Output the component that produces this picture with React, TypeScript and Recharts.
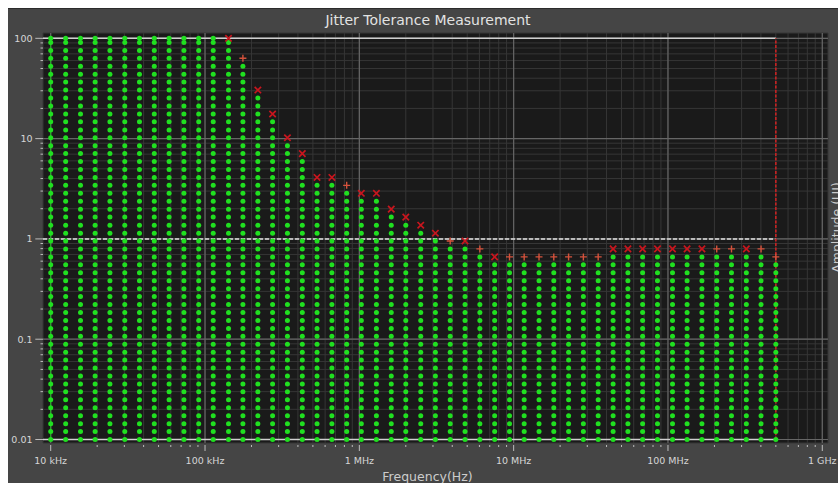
import { CartesianGrid, ReferenceLine, Scatter, ScatterChart, XAxis, YAxis } from "recharts";

// sweep frequencies (Hz), one column of points each
const freqHz = [
  10e3, 12.5e3, 15.6e3, 19.4e3, 24.2e3, 30.2e3, 37.6e3, 46.9e3, 58.5e3, 73.0e3,
  91.0e3, 113e3, 142e3, 176e3, 220e3, 274e3, 342e3, 427e3, 532e3, 664e3,
  828e3, 1.03e6, 1.29e6, 1.61e6, 2.0e6, 2.5e6, 3.11e6, 3.88e6, 4.84e6, 6.04e6,
  7.53e6, 9.4e6, 11.7e6, 14.6e6, 18.2e6, 22.7e6, 28.3e6, 35.3e6, 44.1e6, 55.0e6,
  68.5e6, 85.5e6, 107e6, 133e6, 166e6, 207e6, 258e6, 322e6, 401e6, 500e6,
];

// jitter amplitude steps (UI)
const ampUI = [
  0.01, 0.012, 0.0144, 0.0173, 0.0207, 0.0249, 0.0299, 0.0358, 0.043, 0.0516,
  0.0619, 0.0743, 0.0892, 0.107, 0.128, 0.154, 0.185, 0.222, 0.266, 0.319,
  0.383, 0.46, 0.552, 0.662, 0.795, 0.954, 1.14, 1.37, 1.65, 1.98,
  2.37, 2.85, 3.42, 4.1, 4.92, 5.91, 7.09, 8.51, 10.2, 12.2,
  14.7, 17.6, 21.2, 25.4, 30.5, 36.6, 43.9, 52.7, 63.2, 75.8,
  91.0, 100,
];

// first failing amplitude per column (null = passed everything)
const failUI: (number | null)[] = [
  null, null, null, null, null, null, null, null, null, null,
  null, null, 100, 63.2, 30.5, 17.6, 10.2, 7.09, 4.1, 4.1,
  3.42, 2.85, 2.85, 1.98, 1.65, 1.37, 1.14, 0.954, 0.954, 0.795,
  0.662, 0.662, 0.662, 0.662, 0.662, 0.662, 0.662, 0.662, 0.795, 0.795,
  0.795, 0.795, 0.795, 0.795, 0.795, 0.795, 0.795, 0.795, 0.795, 0.662,
];

const failMark = [
  "", "", "", "", "", "", "", "", "", "",
  "", "", "x", "+", "x", "x", "x", "x", "x", "x",
  "+", "x", "x", "x", "x", "x", "x", "+", "x", "+",
  "x", "+", "+", "+", "+", "+", "+", "+", "x", "x",
  "x", "x", "x", "x", "x", "+", "+", "x", "+", "+",
];

const xDecades = [1e4, 1e5, 1e6, 1e7, 1e8, 1e9];
const xLabels = ["10 kHz", "100 kHz", "1 MHz", "10 MHz", "100 MHz", "1 GHz"];
const yDecades = [0.01, 0.1, 1, 10, 100];
const yLabels = ["0.01", "0.1", "1", "10", "100"];

const X_DOMAIN = [8914, 1.089e9];
const Y_DOMAIN = [0.00923, 113];
const MASK_END = 500e6;

const withMinors = (decades: number[]) => {
  const out: number[] = [];
  decades.forEach((d, i) => {
    out.push(d);
    if (i < decades.length - 1) for (let m = 2; m <= 9; m++) out.push(d * m);
  });
  return out;
};
const xTicks = withMinors(xDecades);
const yTicks = withMinors(yDecades);

const decadeIndex = (list: number[], v: number) =>
  list.findIndex((d) => Math.abs(d - v) / d < 1e-6);

const passPts: { f: number; a: number }[] = [];
const crossPts: { f: number; a: number }[] = [];
const plusPts: { f: number; a: number }[] = [];
freqHz.forEach((f, i) => {
  const fail = failUI[i];
  ampUI.forEach((a) => {
    if (fail === null || a < fail) passPts.push({ f, a });
  });
  if (fail !== null) (failMark[i] === "x" ? crossPts : plusPts).push({ f, a: fail });
});

const FONT = "DejaVu Sans, Verdana, sans-serif";

function XTick(p: any) {
  const { x, y, payload } = p;
  const i = decadeIndex(xDecades, payload.value);
  const major = i >= 0;
  return (
    <g>
      <line x1={x} x2={x} y1={y + 2} y2={y + (major ? 8 : 4)} stroke="#bdbdbd" strokeWidth={1} />
      {major && (
        <text x={x} y={y + 21} textAnchor="middle" fill="#d6d6d6" fontSize={9.5} fontFamily={FONT}>
          {xLabels[i]}
        </text>
      )}
    </g>
  );
}

function YTick(p: any) {
  const { x, y, payload } = p;
  const i = decadeIndex(yDecades, payload.value);
  const major = i >= 0;
  return (
    <g>
      <line x1={x - (major ? 7.7 : 2.5)} x2={x} y1={y} y2={y} stroke="#bdbdbd" strokeWidth={1} />
      {major && (
        <text x={x - 10.5} y={y} dy="0.35em" textAnchor="end" fill="#d6d6d6" fontSize={9.5} fontFamily={FONT}>
          {yLabels[i]}
        </text>
      )}
    </g>
  );
}

const Dot = (p: any) => <circle cx={p.cx} cy={p.cy} r={2.5} fill="#20e020" />;
const Cross = (p: any) => {
  const { cx, cy } = p;
  return (
    <path
      d={`M${cx - 3.2},${cy - 3.2}L${cx + 3.2},${cy + 3.2}M${cx + 3.2},${cy - 3.2}L${cx - 3.2},${cy + 3.2}`}
      stroke="#c8161e"
      strokeWidth={1.7}
    />
  );
};
const Plus = (p: any) => {
  const { cx, cy } = p;
  return (
    <path
      d={`M${cx - 3.5},${cy}L${cx + 3.5},${cy}M${cx},${cy - 3.5}L${cx},${cy + 3.5}`}
      stroke="#d4523c"
      strokeWidth={1.4}
    />
  );
};

export default function App() {
  return (
    <div
      style={{
        position: "absolute",
        left: 8,
        top: 8,
        width: 830,
        height: 475,
        background: "#454545",
        borderTop: "1px solid #2c2c2c",
        boxSizing: "border-box",
        overflow: "hidden",
      }}
    >
      <div style={{ position: "absolute", left: 0, top: -1 }}>
        <ScatterChart width={830} height={475} margin={{ top: 25, right: 10, bottom: 0, left: 0 }}>
          <CartesianGrid stroke="#363636" fill="#1a1a1a" fillOpacity={1} />
          <XAxis
            type="number"
            dataKey="f"
            scale="log"
            domain={X_DOMAIN}
            allowDataOverflow
            ticks={xTicks}
            interval={0}
            tickSize={0}
            tickMargin={0}
            axisLine={false}
            tickLine={false}
            tick={(p: any) => <XTick {...p} />}
            height={40}
          />
          <YAxis
            type="number"
            dataKey="a"
            scale="log"
            domain={Y_DOMAIN}
            allowDataOverflow
            ticks={yTicks}
            interval={0}
            tickSize={0}
            tickMargin={0}
            axisLine={false}
            tickLine={false}
            tick={(p: any) => <YTick {...p} />}
            width={35}
          />
          {xDecades.map((d) => (
            <ReferenceLine key={"vx" + d} x={d} stroke="#666" strokeWidth={1.2} />
          ))}
          {yDecades.map((d) => (
            <ReferenceLine key={"hy" + d} y={d} stroke="#666" strokeWidth={1.2} />
          ))}
          <ReferenceLine
            segment={[{ x: X_DOMAIN[0], y: 100 }, { x: MASK_END, y: 100 }]}
            stroke="#cfcfcf"
            strokeWidth={1.5}
            ifOverflow="visible"
          />
          <ReferenceLine
            segment={[{ x: X_DOMAIN[0], y: 0.01 }, { x: MASK_END, y: 0.01 }]}
            stroke="#cfcfcf"
            strokeWidth={1.5}
            ifOverflow="visible"
          />
          <ReferenceLine
            segment={[{ x: X_DOMAIN[0], y: 1 }, { x: MASK_END, y: 1 }]}
            stroke="#dddddd"
            strokeWidth={1.5}
            strokeDasharray="4 2"
            ifOverflow="visible"
          />
          <ReferenceLine
            segment={[{ x: MASK_END, y: 0.01 }, { x: MASK_END, y: 100 }]}
            stroke="#c82222"
            strokeWidth={1.6}
            strokeDasharray="3 1.5"
            ifOverflow="visible"
          />
          <ReferenceLine
            segment={[{ x: 1e4, y: 0.01 }, { x: 1e4, y: 100 }]}
            stroke="#22b022"
            strokeWidth={1}
            ifOverflow="visible"
          />
          <Scatter data={passPts} shape={Dot} isAnimationActive={false} />
          <Scatter data={crossPts} shape={Cross} isAnimationActive={false} />
          <Scatter data={plusPts} shape={Plus} isAnimationActive={false} />
        </ScatterChart>
      </div>
      <svg
        width={830}
        height={475}
        style={{ position: "absolute", left: 0, top: -1, pointerEvents: "none" }}
      >
        <text x={420} y={16.5} textAnchor="middle" fill="#e2e2e2" fontSize={14} fontFamily={FONT}>
          Jitter Tolerance Measurement
        </text>
        <text x={419.5} y={473} textAnchor="middle" fill="#cccccc" fontSize={12.5} fontFamily={FONT}>
          Frequency(Hz)
        </text>
        <text
          x={833}
          y={219.5}
          transform="rotate(-90 833 219.5)"
          textAnchor="middle"
          fill="#cccccc"
          fontSize={12.5}
          fontFamily={FONT}
        >
          Amplitude (UI)
        </text>
      </svg>
    </div>
  );
}
